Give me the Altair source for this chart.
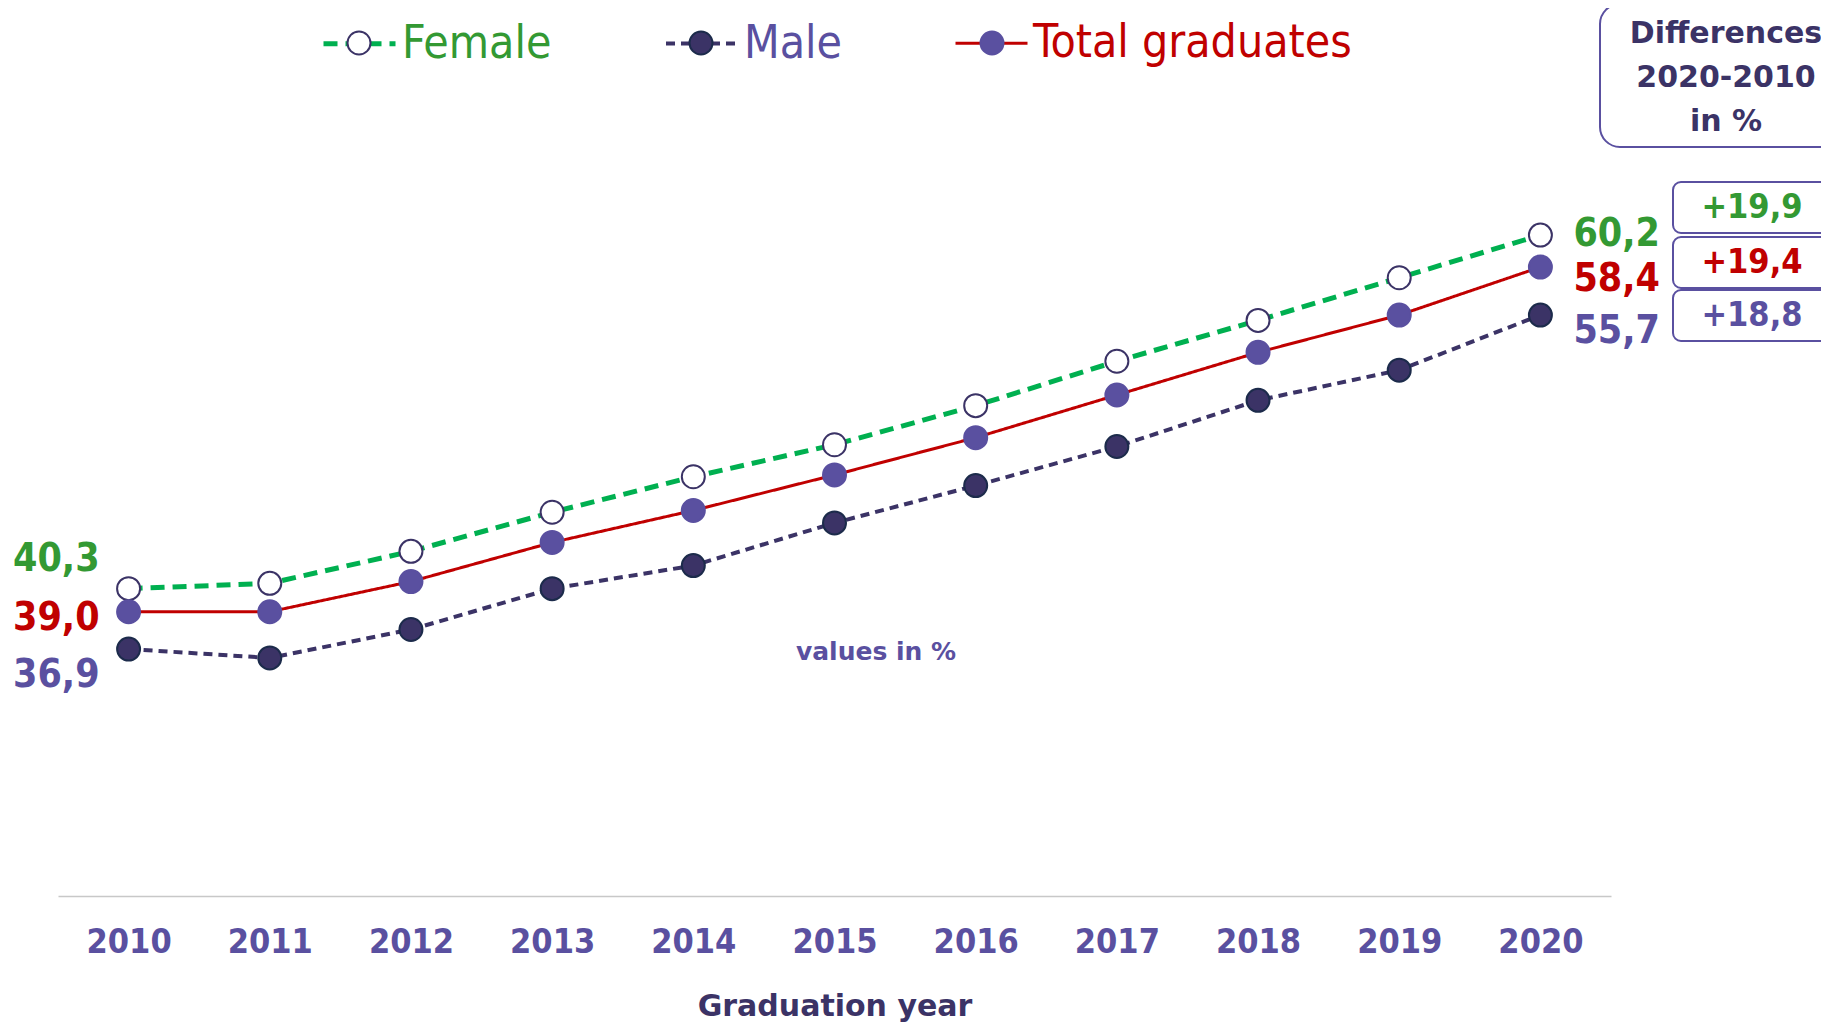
import altair as alt
import pandas as pd

# ---------------- data ----------------
years = [2010, 2011, 2012, 2013, 2014, 2015, 2016, 2017, 2018, 2019, 2020]
series_names = ["Female", "Male", "Total graduates"]
female = [40.3, 40.6, 42.4, 44.6, 46.6, 48.4, 50.6, 53.1, 55.4, 57.8, 60.2]
male = [36.9, 36.4, 38.0, 40.3, 41.6, 44.0, 46.1, 48.3, 50.9, 52.6, 55.7]
total = [39.0, 39.0, 40.7, 42.9, 44.7, 46.7, 48.8, 51.2, 53.6, 55.7, 58.4]
header_lines = ["Differences", "2020-2010", "in %"]
note_text = "values in %"
x_title = "Graduation year"

series_values = {"Female": female, "Male": male, "Total graduates": total}


def fmt(v):
    return f"{v:.1f}".replace(".", ",")


rows = []
for name in series_names:
    for yr, v in zip(years, series_values[name]):
        rows.append({"year": yr, "series": name, "series_pt": name,
                     "value": v, "label": fmt(v)})
df = pd.DataFrame(rows)

diff_rows = []
for name in series_names:
    vals = series_values[name]
    d = round(vals[-1] - vals[0], 1)
    diff_rows.append({"series": name, "diff_label": ("+" if d >= 0 else "") + fmt(d)})
diff_df = pd.DataFrame(diff_rows)

# ---------------- styles ----------------
FONT = "DejaVu Sans"
FONT_C = "DejaVu Sans Condensed, DejaVu Sans"
GREEN_LINE = "#00b050"
GREEN_TEXT = "#339933"
NAVY = "#3b3366"
PURPLE = "#5a50a0"
RED = "#c00000"
text_color = {"Female": GREEN_TEXT, "Male": PURPLE, "Total graduates": RED}

x_enc = alt.X(
    "year:Q",
    scale=alt.Scale(domain=[2009.5, 2020.5], nice=False, zero=False),
    axis=alt.Axis(
        values=years, format="d", labelFont=FONT_C, labelFontSize=34,
        labelFontWeight="bold", labelColor=PURPLE, labelBaseline="alphabetic",
        labelPadding=56, ticks=False, tickSize=0, domainColor="#c8c8c8",
        domainWidth=1.5, grid=False, labelFlush=False, labelOverlap=False,
        title=x_title, titleFont=FONT, titleFontSize=30, titleFontWeight="bold",
        titleColor=NAVY, titleBaseline="alphabetic", titleY=119,
    ),
)
y_enc = alt.Y("value:Q", scale=alt.Scale(domain=[23, 70], nice=False, zero=False), axis=None)

label_color_expr = {"expr": "datum.label == 'Female' ? '%s' : datum.label == 'Male' ? '%s' : '%s'"
                    % (GREEN_TEXT, PURPLE, RED)}

# line legend (coloured, dashed strokes + coloured labels)
line_legend = alt.Legend(
    title=None, orient="none", direction="horizontal", legendX=263, legendY=-56,
    symbolType="stroke", symbolSize=5184, symbolStrokeWidth=4,
    labelFont=FONT_C, labelFontSize=46, labelOffset=4, columnPadding=106,
    labelColor=label_color_expr, labelLimit=0, padding=0,
)
# marker legend laid over the middle of each stroke symbol
pt_legend = alt.Legend(
    title=None, orient="none", direction="horizontal", legendX=263, legendY=-41,
    symbolType="circle", symbolSize=529, symbolStrokeWidth=2, symbolOffset=15,
    labelFont=FONT_C, labelFontSize=46, labelOffset=34, columnPadding=97,
    labelOpacity=0, labelLimit=0, padding=0,
)

base = alt.Chart(df)

lines = base.mark_line().encode(
    x=x_enc, y=y_enc,
    color=alt.Color("series:N", scale=alt.Scale(domain=series_names,
                    range=[GREEN_LINE, NAVY, RED]), legend=line_legend),
    strokeDash=alt.StrokeDash("series:N", scale=alt.Scale(domain=series_names,
                              range=[[14, 8], [9, 6], [1, 0]]), legend=line_legend),
    strokeWidth=alt.StrokeWidth("series:N", scale=alt.Scale(domain=series_names,
                                range=[5, 3, 3]), legend=None),
)

# data-derived (alphabetical) domain for the marker scales keeps their legend separate
points = base.mark_point(shape="circle", filled=True, opacity=1, size=529, strokeWidth=2).encode(
    x=x_enc, y=y_enc,
    fill=alt.Fill("series_pt:N", scale=alt.Scale(range=["#ffffff", NAVY, PURPLE]),
                  legend=pt_legend),
    stroke=alt.Stroke("series_pt:N", scale=alt.Scale(range=[NAVY, "#1c2b4b", PURPLE]),
                      legend=pt_legend),
)

left_dy = {"Female": -30, "Male": 26, "Total graduates": 6}
right_dy = {"Female": -1, "Male": 16, "Total graduates": 12}

layers = [lines, points]
for name in series_names:
    layers.append(
        base.transform_filter((alt.datum.series == name) & (alt.datum.year == years[0]))
        .mark_text(align="right", baseline="middle", dx=-29, dy=left_dy[name],
                   font=FONT_C, fontSize=39, fontWeight="bold", color=text_color[name])
        .encode(x=x_enc, y=y_enc, text="label:N")
    )
    layers.append(
        base.transform_filter((alt.datum.series == name) & (alt.datum.year == years[-1]))
        .mark_text(align="left", baseline="middle", dx=33, dy=right_dy[name],
                   font=FONT_C, fontSize=39, fontWeight="bold", color=text_color[name])
        .encode(x=x_enc, y=y_enc, text="label:N")
    )

# note
note_df = pd.DataFrame({"t": [note_text]})
layers.append(
    alt.Chart(note_df).mark_text(align="center", baseline="alphabetic", font=FONT,
                                 fontSize=25, fontWeight="bold", color=PURPLE)
    .encode(x=alt.value(818), y=alt.value(599), text="t:N")
)

# header box
hdr_df = pd.DataFrame({"k": [0]})
layers.append(
    alt.Chart(hdr_df).mark_rect(fill="white", stroke=PURPLE, strokeWidth=2, cornerRadius=20)
    .encode(x=alt.value(1542), x2=alt.value(1800), y=alt.value(-57), y2=alt.value(86))
)
layers.append(
    alt.Chart(hdr_df).mark_text(text=header_lines, align="center", baseline="alphabetic",
                                lineHeight=44, font=FONT, fontSize=30, fontWeight="bold",
                                color=NAVY)
    .encode(x=alt.value(1668), y=alt.value(-18))
)

# difference boxes (top to bottom: Female, Total, Male)
box_order = ["Female", "Total graduates", "Male"]
box_tops = [121, 176, 229]
box_h = 51
for name, top in zip(box_order, box_tops):
    one = alt.Chart(diff_df).transform_filter(alt.datum.series == name)
    layers.append(
        one.mark_rect(fill="white", stroke=PURPLE, strokeWidth=2, cornerRadius=8)
        .encode(x=alt.value(1615), x2=alt.value(1800), y=alt.value(top), y2=alt.value(top + box_h))
    )
    layers.append(
        one.mark_text(align="center", baseline="middle", font=FONT_C, fontSize=34,
                      fontWeight="bold", color=text_color[name])
        .encode(x=alt.value(1694), y=alt.value(top + box_h / 2), text="diff_label:N")
    )

chart = (
    alt.layer(*layers)
    .properties(width=1553, height=835,
                padding={"left": 50, "top": 53, "right": 210, "bottom": 130},
                autosize=alt.AutoSizeParams(type="none"),
                background="white")
    .configure_view(stroke=None)
)

chart.save("out.html", embed_options={"renderer": "svg", "actions": False})
